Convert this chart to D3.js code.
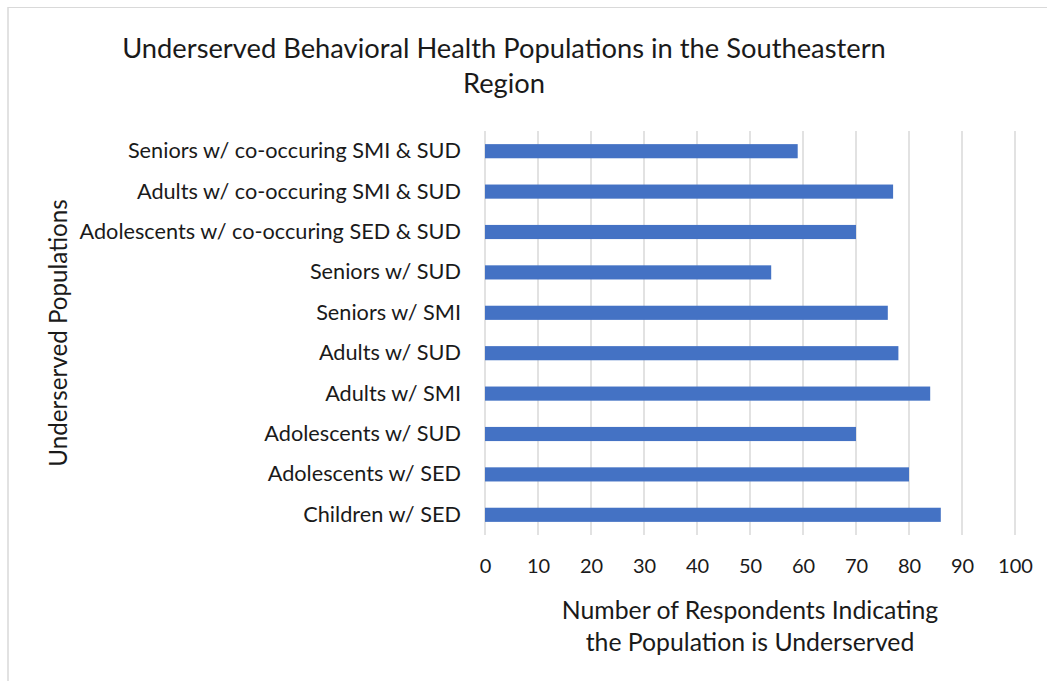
<!DOCTYPE html>
<html>
<head>
<meta charset="utf-8">
<script src="https://cdn.jsdelivr.net/npm/d3@7"></script>
<style>
  html, body { margin: 0; padding: 0; background: #fff; }
  svg { display: block; font-family: Lato, "Open Sans", sans-serif; }
</style>
</head>
<body>
<svg id="chart" width="1047" height="681"></svg>
<script>
// Populations, listed top to bottom
const categories = [
  "Seniors w/ co-occuring SMI & SUD",
  "Adults w/ co-occuring SMI & SUD",
  "Adolescents w/ co-occuring SED & SUD",
  "Seniors w/ SUD",
  "Seniors w/ SMI",
  "Adults w/ SUD",
  "Adults w/ SMI",
  "Adolescents w/ SUD",
  "Adolescents w/ SED",
  "Children w/ SED"
];
const respondents = [59, 77, 70, 54, 76, 78, 84, 70, 80, 86];
const xTicks = [0, 10, 20, 30, 40, 50, 60, 70, 80, 90, 100];

const titleLines = ["Underserved Behavioral Health Populations in the Southeastern", "Region"];
const xTitleLines = ["Number of Respondents Indicating", "the Population is Underserved"];
const yTitle = "Underserved Populations";

const svg = d3.select("#chart");
const plot = { left: 485, right: 1015, top: 131, bottom: 535 };
const textColor = "#1a1a1a";

// chart frame (top and left edges)
svg.append("line")
  .attr("x1", 8).attr("x2", 1047).attr("y1", 7.5).attr("y2", 7.5)
  .attr("stroke", "#d9d9d9").attr("stroke-width", 1);
svg.append("line")
  .attr("x1", 8).attr("x2", 8).attr("y1", 7).attr("y2", 681)
  .attr("stroke", "#d9d9d9").attr("stroke-width", 1.5);

const x = d3.scaleLinear().domain([0, 100]).range([plot.left, plot.right]);
const y = d3.scaleBand().domain(categories).range([plot.top, plot.bottom])
  .paddingInner(0.65).paddingOuter(0.325);

// vertical gridlines
svg.append("g")
  .selectAll("line")
  .data(xTicks)
  .join("line")
  .attr("x1", d => x(d)).attr("x2", d => x(d))
  .attr("y1", plot.top).attr("y2", plot.bottom)
  .attr("stroke", "#d9d9d9").attr("stroke-width", 1.5);

// bars
svg.append("g")
  .selectAll("rect")
  .data(categories.map((c, i) => ({ c, v: respondents[i] })))
  .join("rect")
  .attr("x", x(0))
  .attr("y", d => y(d.c))
  .attr("width", d => x(d.v) - x(0))
  .attr("height", y.bandwidth())
  .attr("fill", "#4472C4");

// x axis tick labels
const xAxis = d3.axisBottom(x).tickValues(xTicks).tickSize(0).tickPadding(24);
const gx = svg.append("g").attr("transform", `translate(0,${plot.bottom})`).call(xAxis);
gx.select(".domain").remove();
gx.selectAll("text").attr("font-size", 20).attr("fill", textColor)
  .attr("font-family", "Lato, 'Open Sans', sans-serif");

// y axis category labels
const yAxis = d3.axisLeft(y).tickSize(0).tickPadding(24);
const gy = svg.append("g").attr("transform", `translate(${plot.left},0)`).call(yAxis);
gy.select(".domain").remove();
gy.selectAll("text").attr("font-size", 21.7).attr("fill", textColor)
  .attr("font-family", "Lato, 'Open Sans', sans-serif");

// chart title
svg.append("text")
  .attr("text-anchor", "middle")
  .attr("font-size", 27.3).attr("fill", textColor)
  .selectAll("tspan")
  .data(titleLines)
  .join("tspan")
  .attr("x", 504)
  .attr("y", (d, i) => 58 + i * 35)
  .text(d => d);

// x axis title
svg.append("text")
  .attr("text-anchor", "middle")
  .attr("font-size", 24.8).attr("fill", textColor)
  .selectAll("tspan")
  .data(xTitleLines)
  .join("tspan")
  .attr("x", 750)
  .attr("y", (d, i) => 619 + i * 32)
  .text(d => d);

// y axis title
svg.append("text")
  .attr("text-anchor", "middle")
  .attr("font-size", 24.2).attr("fill", textColor)
  .attr("transform", `translate(67,333) rotate(-90)`)
  .text(yTitle);
</script>
</body>
</html>
